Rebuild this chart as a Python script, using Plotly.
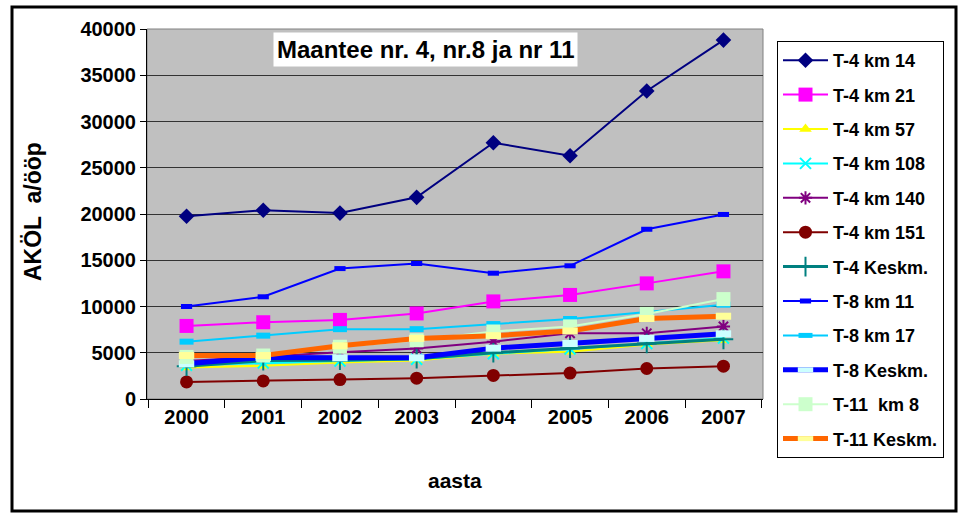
import plotly.graph_objects as go

years = ["2000", "2001", "2002", "2003", "2004", "2005", "2006", "2007"]

t4_km14 = [19750, 20400, 20100, 21800, 27700, 26300, 33300, 38800]
t4_km21 = [7900, 8300, 8550, 9250, 10550, 11250, 12500, 13800]
t4_km57 = [3400, 3600, 3950, 4150, 4900, 5100, 5900, 6350]
t4_km108 = [3650, 3900, 4100, 4300, 4900, 5400, 6000, 6600]
t4_km140 = [4100, 4600, 5050, 5450, 6200, 7100, 7100, 7850]
t4_km151 = [1850, 1950, 2100, 2250, 2550, 2800, 3300, 3550]
t4_keskm = [3550, 4150, 4200, 4350, 5000, 5500, 6000, 6450]
t8_km11 = [10000, 11050, 14100, 14650, 13600, 14400, 18350, 19950]
t8_km17 = [6200, 6850, 7550, 7550, 8100, 8650, 9400, 10200]
t8_keskm = [3800, 4500, 4450, 4450, 5500, 6000, 6550, 7050]
t11_km8 = [4550, 4700, 5650, 6350, 7300, 7850, 9200, 10800]
t11_keskm = [4700, 4700, 5750, 6550, 6850, 7350, 8700, 8950]

series = [
    ("T-4 km 14", t4_km14, "#000080", 2, dict(symbol="diamond", size=12, color="#000080")),
    ("T-4 km 21", t4_km21, "#FF00FF", 2, dict(symbol="square", size=14, color="#FF00FF")),
    ("T-4 km 57", t4_km57, "#FFFF00", 2, dict(symbol="triangle-up", size=11, color="#FFFF00")),
    ("T-4 km 108", t4_km108, "#00FFFF", 2, dict(symbol="x-thin-open", size=11, color="#00FFFF", line=dict(width=2, color="#00FFFF"))),
    ("T-4 km 140", t4_km140, "#800080", 2, dict(symbol="asterisk-open", size=11, color="#800080", line=dict(width=2, color="#800080"))),
    ("T-4 km 151", t4_km151, "#800000", 2, dict(symbol="circle", size=13, color="#800000")),
    ("T-4 Keskm.", t4_keskm, "#008080", 3, dict(symbol="cross-thin-open", size=14, color="#008080", line=dict(width=2, color="#008080"))),
    ("T-8 km 11", t8_km11, "#0000FF", 2, dict(symbol="line-ew-open", size=8, color="#0000FF", line=dict(width=5, color="#0000FF"))),
    ("T-8 km 17", t8_km17, "#00CCFF", 2, dict(symbol="line-ew-open", size=10, color="#00CCFF", line=dict(width=6, color="#00CCFF"))),
    ("T-8 Keskm.", t8_keskm, "#0000FF", 5, dict(symbol="line-ew-open", size=11, color="#CCFFFF", line=dict(width=7, color="#CCFFFF"))),
    ("T-11  km 8", t11_km8, "#CCFFCC", 2, dict(symbol="square", size=14, color="#CCFFCC")),
    ("T-11 Keskm.", t11_keskm, "#FF6600", 5, dict(symbol="line-ew-open", size=11, color="#FFFF99", line=dict(width=7, color="#FFFF99"))),
]

fig = go.Figure()
for name, vals, color, lw, marker in series:
    fig.add_trace(go.Scatter(
        x=years, y=vals, name="<b>" + name + "</b>", mode="lines+markers",
        line=dict(color=color, width=lw), marker=marker,
        legendgroup=name,
    ))

FONT = "Liberation Sans, Arial, sans-serif"
W, H = 963, 514
L, R, T, B = 147, 200, 29, 115
pw, ph = W - L - R, H - T - B

def px_x(p):
    return (p - L) / pw

def px_y(p):
    return (H - B - p) / ph

fig.update_layout(
    width=W, height=H,
    margin=dict(l=L, r=R, t=T, b=B, autoexpand=False),
    paper_bgcolor="white",
    plot_bgcolor="#C0C0C0",
    font=dict(family=FONT, size=17, color="black"),
    showlegend=True,
    legend=dict(
        x=px_x(777), y=px_y(41), xanchor="left", yanchor="top",
        bgcolor="white", bordercolor="black", borderwidth=1,
        font=dict(family=FONT, size=18, color="black"),
        tracegroupgap=8, traceorder="grouped", itemwidth=45, maxheight=470,
    ),
    xaxis=dict(
        type="category", tickson="boundaries", ticks="outside", ticklen=8,
        tickcolor="black", showline=True, linecolor="black", linewidth=1,
        showgrid=False, tickfont=dict(family=FONT, size=20, color="black", weight="bold"),
        mirror=False,
    ),
    yaxis=dict(
        range=[0, 40000], dtick=5000, tickformat="d", ticks="outside", ticklen=6, tickcolor="black",
        showline=True, linecolor="black", linewidth=1,
        showgrid=True, gridcolor="#333333", gridwidth=1, zeroline=False,
        tickfont=dict(family=FONT, size=20, color="black", weight="bold"),
    ),
    shapes=[
        dict(type="rect", xref="paper", yref="paper", x0=px_x(12), x1=px_x(956), y0=px_y(511), y1=px_y(7),
             line=dict(color="black", width=3), fillcolor="rgba(0,0,0,0)", layer="below"),
        dict(type="rect", xref="paper", yref="paper", x0=0, x1=1, y0=0, y1=1,
             line=dict(color="#808080", width=1), fillcolor="rgba(0,0,0,0)", layer="below"),
    ],
    annotations=[
        dict(text="<b>Maantee nr. 4, nr.8 ja nr 11</b>", xref="paper", yref="paper",
             x=px_x(425), y=px_y(50), xanchor="center", yanchor="middle", showarrow=False,
             bgcolor="white", font=dict(family=FONT, size=24, color="black"), borderpad=3),
        dict(text="<b>aasta</b>", xref="paper", yref="paper",
             x=px_x(455), y=px_y(480), xanchor="center", yanchor="middle", showarrow=False,
             font=dict(family=FONT, size=21, color="black")),
        dict(text="<b>AKÖL  a/ööp</b>", xref="paper", yref="paper", textangle=-90,
             x=px_x(33), y=px_y(212), xanchor="center", yanchor="middle", showarrow=False,
             font=dict(family=FONT, size=23, color="black")),
    ],
)

fig.write_html("out.html", config={"displayModeBar": False},
               post_script="document.body.style.margin='0';document.body.style.overflow='hidden';")
